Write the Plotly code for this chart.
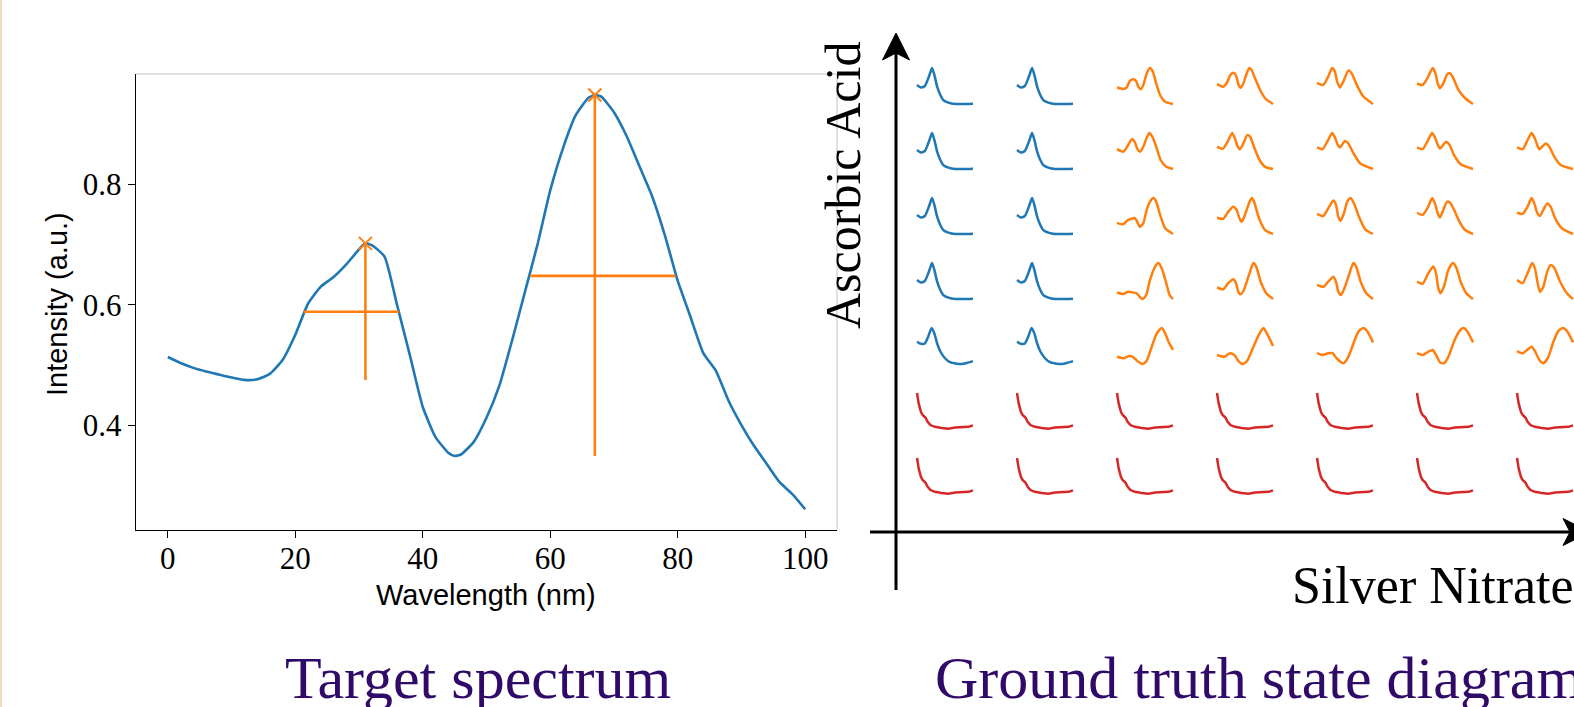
import plotly.graph_objects as go

W, H = 1574, 707

# ---------------- Target spectrum data ----------------
wavelength = [0, 2, 4, 6, 8, 10, 12, 14, 16, 18, 20, 22, 24, 26, 28, 30, 31, 32, 34, 36, 38, 40, 42, 44, 45,
              46, 48, 50, 52, 54, 56, 58, 60, 62, 64, 66, 67, 68, 70, 72, 74, 76, 78, 80, 82, 84, 86, 88, 90,
              92, 94, 96, 98, 100]
intensity = [0.513, 0.503, 0.495, 0.489, 0.484, 0.479, 0.475, 0.476, 0.485, 0.508, 0.55, 0.602, 0.63, 0.646,
             0.667, 0.692, 0.702, 0.699, 0.68, 0.598, 0.515, 0.43, 0.38, 0.354, 0.3485, 0.351, 0.372, 0.412,
             0.465, 0.54, 0.62, 0.70, 0.79, 0.86, 0.915, 0.944, 0.9486, 0.946, 0.92, 0.88, 0.83, 0.78, 0.715,
             0.64, 0.58, 0.52, 0.49, 0.44, 0.40, 0.365, 0.335, 0.305, 0.285, 0.26]
peak_wl = [31, 67]
peak_int = [0.702, 0.9486]
prominence_base = [0.4748, 0.3485]
half_height = [0.5884, 0.648]
width_left = [21.3, 56.85]
width_right = [36.25, 79.65]
x_ticks = [0, 20, 40, 60, 80, 100]
y_ticks = [0.4, 0.6, 0.8]

# ---------------- State diagram mini spectra (t, normalised value) ----------------
blue_upper = [(0, .53), (.07, .46), (.14, .5), (.2, .71), (.26, .97), (.27, 1), (.31, .81), (.36, .48),
              (.41, .27), (.47, .11), (.56, .04), (.68, 0), (.83, 0), (1, .01)]
blue_lower = [(0, .62), (.07, .56), (.14, .57), (.2, .76), (.26, 1), (.31, .85), (.36, .57), (.42, .34),
              (.5, .16), (.59, .05), (.71, .01), (.8, 0), (.89, .03), (1, .08)]
red_curve = [(0, 1.0), (.03, .71), (.07, .48), (.1, .39), (.15, .32), (.19, .2), (.24, .11), (.32, .06),
             (.44, .03), (.56, .01), (.68, .04), (.8, .05), (.92, .06), (1, .1)]

o_r1c3 = [(0, .46), (.11, .42), (.17, .45), (.23, .64), (.29, .69), (.34, .64), (.38, .48), (.42, .41),
          (.47, .53), (.53, .85), (.59, 1.0), (.64, .90), (.70, .57), (.77, .25), (.86, .06), (1, 0)]
o_r1c4 = [(0, .55), (.11, .48), (.17, .57), (.24, .81), (.29, .87), (.34, .79), (.38, .55), (.42, .45),
          (.47, .57), (.53, .85), (.58, 1.0), (.62, .94), (.68, .71), (.77, .39), (.86, .16), (1, 0)]
o_r1c5 = [(0, .59), (.11, .53), (.2, .76), (.27, 1.0), (.32, .90), (.36, .62), (.41, .46), (.47, .62),
          (.56, .93), (.62, .85), (.71, .53), (.83, .20), (1, 0)]
o_r1c6 = [(0, .57), (.10, .53), (.2, .76), (.28, 1.0), (.33, .85), (.37, .57), (.41, .44), (.47, .57),
          (.54, .83), (.59, .85), (.65, .71), (.74, .39), (.86, .16), (1, 0)]

o_r2c3 = [(0, .55), (.11, .48), (.18, .62), (.27, .83), (.32, .74), (.36, .57), (.41, .48), (.47, .62),
          (.53, .87), (.58, 1.0), (.63, .90), (.70, .62), (.78, .25), (.88, .06), (1, 0)]
o_r2c4 = [(0, .62), (.1, .56), (.19, .76), (.27, 1.0), (.32, .85), (.37, .62), (.41, .55), (.47, .71),
          (.54, .94), (.59, .90), (.66, .62), (.76, .25), (.86, .06), (1, 0)]
o_r2c5 = [(0, .60), (.1, .55), (.2, .81), (.27, 1.0), (.32, .88), (.37, .67), (.41, .60), (.5, .78),
          (.56, .71), (.65, .44), (.77, .16), (1, 0)]
o_r2c6 = [(0, .60), (.1, .55), (.2, .81), (.27, 1.0), (.32, .88), (.37, .67), (.41, .57), (.52, .76),
          (.58, .67), (.66, .39), (.78, .13), (1, 0)]
o_r2c7 = [(0, .60), (.1, .55), (.19, .81), (.26, 1.0), (.31, .88), (.36, .67), (.40, .55), (.51, .71),
          (.57, .64), (.66, .36), (.78, .11), (1, 0)]

o_r3c3 = [(0, .31), (.11, .27), (.2, .39), (.32, .44), (.36, .34), (.41, .2), (.47, .30), (.53, .67),
          (.59, .90), (.65, 1.0), (.70, .9), (.77, .53), (.86, .16), (1, 0)]
o_r3c4 = [(0, .45), (.11, .42), (.2, .62), (.29, .76), (.35, .67), (.4, .44), (.44, .34), (.5, .53),
          (.57, .85), (.62, 1.0), (.66, .9), (.75, .44), (.86, .11), (1, 0)]
o_r3c5 = [(0, .56), (.11, .5), (.2, .71), (.29, .93), (.34, .81), (.38, .48), (.42, .37), (.48, .57),
          (.54, .90), (.6, 1.0), (.66, .85), (.76, .44), (.86, .13), (1, 0)]
o_r3c6 = [(0, .59), (.1, .53), (.2, .76), (.27, 1.0), (.32, .85), (.37, .57), (.41, .46), (.48, .71),
          (.54, .90), (.59, .87), (.65, .71), (.76, .34), (.86, .11), (1, 0)]
o_r3c7 = [(0, .59), (.1, .56), (.19, .76), (.26, 1.0), (.31, .85), (.36, .59), (.41, .5), (.47, .67),
          (.54, .85), (.6, .76), (.68, .44), (.8, .16), (1, 0)]

o_r4c3 = [(0, .18), (.11, .14), (.2, .2), (.29, .18), (.35, .16), (.41, .05), (.46, 0), (.52, .11),
          (.59, .53), (.68, .9), (.74, 1.0), (.8, .85), (.88, .44), (.94, .11), (1, 0)]
o_r4c4 = [(0, .32), (.11, .27), (.2, .44), (.29, .55), (.34, .44), (.38, .2), (.42, .13), (.48, .25),
          (.58, .71), (.65, 1.0), (.7, .9), (.78, .48), (.88, .16), (1, 0)]
o_r4c5 = [(0, .39), (.12, .34), (.2, .48), (.29, .62), (.34, .48), (.38, .2), (.43, .11), (.49, .3),
          (.58, .71), (.65, 1.0), (.7, .9), (.78, .48), (.88, .16), (1, 0)]
o_r4c6 = [(0, .48), (.1, .42), (.2, .71), (.29, .9), (.34, .71), (.38, .3), (.42, .16), (.48, .34),
          (.56, .81), (.64, 1.0), (.7, .88), (.78, .48), (.88, .16), (1, 0)]
o_r4c7 = [(0, .53), (.1, .44), (.2, .76), (.27, 1.0), (.32, .85), (.37, .44), (.41, .2), (.47, .34),
          (.54, .76), (.6, .94), (.66, .88), (.77, .48), (.89, .16), (1, 0)]

o_r5c3 = [(0, .2), (.11, .16), (.22, .22), (.29, .19), (.38, .06), (.46, 0), (.53, .09), (.62, .48),
          (.71, .85), (.8, 1.0), (.86, .85), (.92, .62), (1, .39)]
o_r5c4 = [(0, .25), (.13, .2), (.23, .3), (.31, .25), (.38, .09), (.46, 0), (.54, .09), (.65, .48),
          (.76, .85), (.83, 1.0), (.89, .85), (.95, .67), (1, .5)]
o_r5c5 = [(0, .3), (.1, .25), (.2, .3), (.28, .3), (.35, .16), (.47, .02), (.56, .2), (.65, .57),
          (.74, .9), (.83, 1.0), (.9, .9), (1, .6)]
o_r5c6 = [(0, .3), (.1, .25), (.2, .34), (.28, .39), (.34, .25), (.41, .05), (.48, .02), (.56, .2),
          (.66, .62), (.76, .92), (.83, 1.0), (.9, .9), (1, .6)]
o_r5c7 = [(0, .36), (.1, .3), (.18, .39), (.26, .48), (.32, .36), (.4, .11), (.47, .02), (.56, .2),
          (.65, .62), (.74, .92), (.82, 1.0), (.9, .9), (1, .6)]

orange_rows = [
    [o_r1c3, o_r1c4, o_r1c5, o_r1c6, None],
    [o_r2c3, o_r2c4, o_r2c5, o_r2c6, o_r2c7],
    [o_r3c3, o_r3c4, o_r3c5, o_r3c6, o_r3c7],
    [o_r4c3, o_r4c4, o_r4c5, o_r4c6, o_r4c7],
    [o_r5c3, o_r5c4, o_r5c5, o_r5c6, o_r5c7],
]
n_rows, n_cols = 7, 7

BLUE, ORANGE, RED = "#1f77b4", "#ff7f0e", "#d62728"
TITLE_COLOR = "#300a68"


def pxx(p):
    return p / W


def pxy(p):
    return 1 - p / H


fig = go.Figure()
layout = dict(
    width=W, height=H, margin=dict(l=0, r=0, t=0, b=0, autoexpand=False),
    paper_bgcolor="white", plot_bgcolor="rgba(0,0,0,0)", showlegend=False,
)

# ---------------- main spectrum plot ----------------
fig.add_trace(go.Scatter(x=wavelength, y=intensity, mode="lines",
                         line=dict(color=BLUE, width=2.6, shape="spline", smoothing=0.5),
                         xaxis="x", yaxis="y", hoverinfo="skip"))
fig.add_trace(go.Scatter(x=peak_wl, y=peak_int, mode="markers",
                         marker=dict(symbol="x-thin", size=13, line=dict(color=ORANGE, width=2)),
                         xaxis="x", yaxis="y", hoverinfo="skip"))
vx, vy, hx, hy = [], [], [], []
for i in range(len(peak_wl)):
    vx += [peak_wl[i], peak_wl[i], None]
    vy += [prominence_base[i], peak_int[i], None]
    hx += [width_left[i], width_right[i], None]
    hy += [half_height[i], half_height[i], None]
fig.add_trace(go.Scatter(x=vx, y=vy, mode="lines", line=dict(color=ORANGE, width=2.6),
                         xaxis="x", yaxis="y", hoverinfo="skip"))
fig.add_trace(go.Scatter(x=hx, y=hy, mode="lines", line=dict(color=ORANGE, width=2.6),
                         xaxis="x", yaxis="y", hoverinfo="skip"))

tickfont = dict(family="Liberation Serif", size=31, color="black")
layout["xaxis"] = dict(domain=[pxx(136), pxx(837)], range=[-5, 105], tickvals=x_ticks,
                       ticks="outside", ticklen=7, tickwidth=1.3, tickcolor="black",
                       showline=True, linecolor="black", linewidth=1.4, showgrid=False,
                       zeroline=False, tickfont=tickfont, anchor="y", fixedrange=True,
                       automargin=False, ticklabelstandoff=-6)
layout["yaxis"] = dict(domain=[pxy(530), pxy(74)], range=[0.2255, 0.9835], tickvals=y_ticks,
                       tickformat=".1f", ticks="outside", ticklen=7, tickwidth=1.3,
                       tickcolor="black", showline=True, linecolor="black", linewidth=1.4,
                       showgrid=False, zeroline=False, tickfont=tickfont, anchor="x",
                       fixedrange=True, automargin=False, ticklabelstandoff=0)

shapes = [
    dict(type="line", xref="x domain", yref="y domain", x0=0, x1=1, y0=1, y1=1,
         line=dict(color="#c4c4c4", width=1)),
    dict(type="line", xref="x domain", yref="y domain", x0=1, x1=1, y0=0, y1=1,
         line=dict(color="#c4c4c4", width=1)),
    # thin beige strip at left edge
    dict(type="rect", xref="paper", yref="paper", x0=0, x1=pxx(2), y0=0, y1=1,
         fillcolor="#efdfb8", line=dict(width=0)),
]

# ---------------- state diagram ----------------
CELL_X0, CELL_DX, CELL_W = 917, 100, 56
CELL_Y0, CELL_DY, CELL_H = 68, 65, 36
PAD = 4

k = 2
for r in range(n_rows):
    for c in range(n_cols):
        if r >= 5:
            curve, color, shape = red_curve, RED, "linear"
        elif c < 2:
            curve, color, shape = (blue_lower if r == 4 else blue_upper), BLUE, "spline"
        else:
            curve, color, shape = orange_rows[r][c - 2], ORANGE, "spline"
        if curve is None:
            continue
        x0 = CELL_X0 + CELL_DX * c
        y0 = CELL_Y0 + CELL_DY * r
        L = max(0, x0 - PAD)
        R = min(W, x0 + CELL_W + PAD)
        T = y0 - PAD
        B = y0 + CELL_H + PAD
        layout[f"xaxis{k}"] = dict(domain=[L / W, R / W], range=[(L - x0) / CELL_W, (R - x0) / CELL_W],
                                   visible=False, anchor=f"y{k}", fixedrange=True)
        layout[f"yaxis{k}"] = dict(domain=[pxy(B), pxy(T)],
                                   range=[-(B - (y0 + CELL_H)) / CELL_H, 1 + (y0 - T) / CELL_H],
                                   visible=False, anchor=f"x{k}", fixedrange=True)
        fig.add_trace(go.Scatter(x=[p[0] for p in curve], y=[p[1] for p in curve], mode="lines",
                                 line=dict(color=color, width=2.5, shape=shape,
                                           **({"smoothing": 0.6} if shape == "spline" else {})),
                                 xaxis=f"x{k}", yaxis=f"y{k}", hoverinfo="skip"))
        k += 1

# axes arrows
AX_X, AX_Y = 896, 532
shapes += [
    dict(type="line", xref="paper", yref="paper", x0=pxx(AX_X), x1=pxx(AX_X), y0=pxy(590), y1=pxy(52),
         line=dict(color="black", width=3)),
    dict(type="line", xref="paper", yref="paper", x0=pxx(870), x1=pxx(1570), y0=pxy(AX_Y), y1=pxy(AX_Y),
         line=dict(color="black", width=3)),
    dict(type="path", xref="paper", yref="paper",
         path=f"M {pxx(896)},{pxy(33)} L {pxx(909.5)},{pxy(60)} L {pxx(896)},{pxy(53)} "
              f"L {pxx(882.5)},{pxy(60)} Z",
         fillcolor="black", line=dict(color="black", width=1)),
    dict(type="path", xref="paper", yref="paper",
         path=f"M {pxx(1590)},{pxy(532)} L {pxx(1563)},{pxy(545.5)} L {pxx(1570)},{pxy(532)} "
              f"L {pxx(1563)},{pxy(518.5)} Z",
         fillcolor="black", line=dict(color="black", width=1)),
]

annotations = [
    dict(text="Wavelength (nm)", x=pxx(486), y=pxy(595), xref="paper", yref="paper",
         showarrow=False, xanchor="center", yanchor="middle",
         font=dict(family="Liberation Sans", size=29, color="black")),
    dict(text="Intensity (a.u.)", x=pxx(57), y=pxy(304), xref="paper", yref="paper",
         showarrow=False, xanchor="center", yanchor="middle", textangle=-90,
         font=dict(family="Liberation Sans", size=29, color="black")),
    dict(text="Ascorbic Acid", x=pxx(843), y=pxy(186), xref="paper", yref="paper",
         showarrow=False, xanchor="center", yanchor="middle", textangle=-90,
         font=dict(family="Liberation Serif", size=50, color="black")),
    dict(text="Silver Nitrate", x=pxx(1290), y=pxy(585), xref="paper", yref="paper",
         showarrow=False, xanchor="left", yanchor="middle",
         font=dict(family="Liberation Serif", size=52, color="black")),
    dict(text="Target spectrum", x=pxx(478), y=pxy(678), xref="paper", yref="paper",
         showarrow=False, xanchor="center", yanchor="middle",
         font=dict(family="Liberation Serif", size=60, color=TITLE_COLOR)),
    dict(text="Ground truth state diagram", x=pxx(933), y=pxy(678), xref="paper", yref="paper",
         showarrow=False, xanchor="left", yanchor="middle",
         font=dict(family="Liberation Serif", size=60, color=TITLE_COLOR)),
]

layout["shapes"] = shapes
layout["annotations"] = annotations
fig.update_layout(**layout)
fig.write_html("out.html")
